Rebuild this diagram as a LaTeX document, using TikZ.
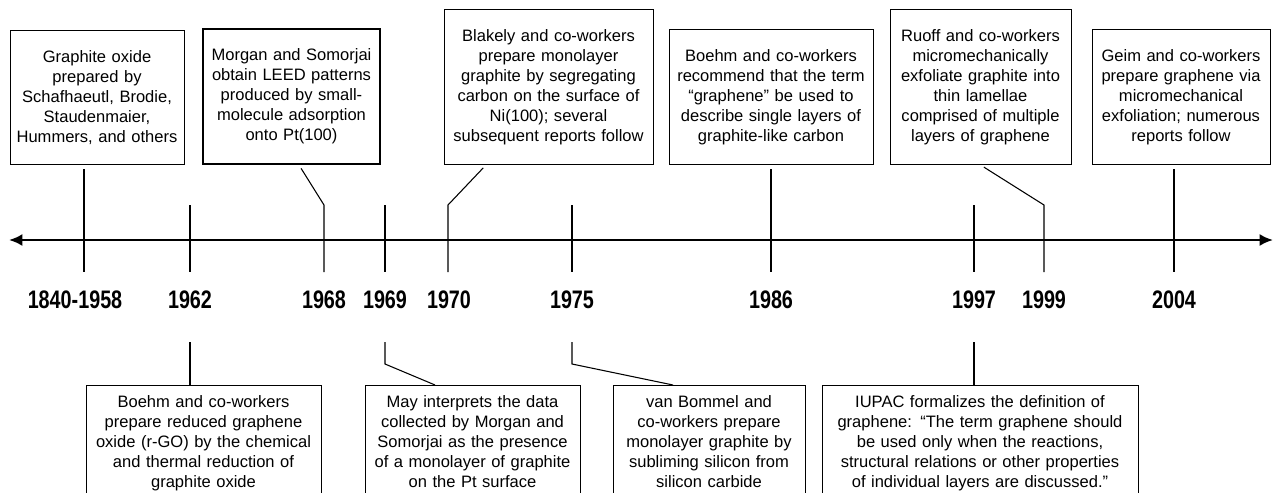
\documentclass[tikz,border=0pt]{standalone}
\usepackage{fontspec}
\setmainfont{Liberation Sans}
\newfontfamily\yearfont[FakeStretch=0.78]{Liberation Sans}
\usetikzlibrary{arrows.meta}
\newdimen\px \px=0.75pt

\begin{document}
\begin{tikzpicture}[x=0.75pt,y=-0.75pt,
	event/.style={ draw, line width=0.75pt, align=center, inner xsep=4\px, font=\fontsize{12.4}{15}\selectfont },
	eventup/.style={ event, anchor=south, inner ysep=20\px },
	eventdown/.style={ event, anchor=north, inner ysep=10\px },
	year/.style={ font=\yearfont\bfseries\fontsize{19}{19}\selectfont, inner sep=0pt },
	tick/.style={ line width=0.8pt },
	axis/.style={ line width=1.8pt, {Latex[length=10pt,width=9pt]}-{Latex[length=10pt,width=9pt]} }
]
\useasboundingbox (0,0) rectangle (1279,493);
\clip (0,0) rectangle (1279,493);

\node at (97,165) (b1840) [eventup, text width=166\px] {Graphite oxide\\prepared by\\Schafhaeutl, Brodie,\\Staudenmaier,\\Hummers, and others};
\node at (291.5,165) (b1968) [eventup, text width=169\px, line width=1.5pt] {Morgan and Somorjai\\obtain LEED patterns\\produced by small-\\molecule adsorption\\onto Pt(100)};
\node at (548.5,165) (b1970) [eventup, text width=201\px] {Blakely and co-workers\\prepare monolayer\\graphite by segregating\\carbon on the surface of\\Ni(100); several\\subsequent reports follow};
\node at (771,165) (b1986) [eventup, text width=196\px] {Boehm and co-workers\\recommend that the term\\“graphene” be used to\\describe single layers of\\graphite-like carbon};
\node at (980.5,165) (b1999) [eventup, text width=173\px] {Ruoff and co-workers\\micromechanically\\exfoliate graphite into\\thin lamellae\\comprised of multiple\\layers of graphene};
\node at (1181,165) (b2004) [eventup, text width=170\px] {Geim and co-workers\\prepare graphene via\\micromechanical\\exfoliation; numerous\\reports follow};

\node at (203.5,385) (c1962) [eventdown, text width=227\px] {Boehm and co-workers\\prepare reduced graphene\\oxide (r-GO) by the chemical\\and thermal reduction of\\graphite oxide};
\node at (472.5,385) (c1969) [eventdown, text width=207\px] {May interprets the data\\collected by Morgan and\\Somorjai as the presence\\of a monolayer of graphite\\on the Pt surface};
\node at (709,385) (c1975) [eventdown, text width=184\px] {van Bommel and\\co-workers prepare\\monolayer graphite by\\subliming silicon from\\silicon carbide};
\node at (980,385) (c1997) [eventdown, text width=308\px] {IUPAC formalizes the definition of\\graphene: “The term graphene should\\be used only when the reactions,\\structural relations or other properties\\of individual layers are discussed.”};

\coordinate (west) at (9,240);
\coordinate (east) at (1273,240);
\coordinate (t1840) at (84,240);
\coordinate (t1962) at (190,240);
\coordinate (t1968) at (324,240);
\coordinate (t1969) at (385,240);
\coordinate (t1970) at (448,240);
\coordinate (t1975) at (572,240);
\coordinate (t1986) at (771,240);
\coordinate (t1997) at (974,240);
\coordinate (t1999) at (1044,240);
\coordinate (t2004) at (1174,240);

\node at (75,300) (y1840) [year] {1840-1958};
\node at (190,300) (y1962) [year] {1962};
\node at (324,300) (y1968) [year] {1968};
\node at (385,300) (y1969) [year] {1969};
\node at (449,300) (y1970) [year] {1970};
\node at (572,300) (y1975) [year] {1975};
\node at (771,300) (y1986) [year] {1986};
\node at (974,300) (y1997) [year] {1997};
\node at (1044,300) (y1999) [year] {1999};
\node at (1174,300) (y2004) [year] {2004};

\draw[axis] (west) -- (east);

\draw[tick, shorten <=3pt] (b1840.south -| t1840) -- ([yshift=-24pt]t1840);
\draw[tick, shorten <=3pt] ([xshift=5.6pt]b1968.south) -- ([yshift=26.25pt]t1968) -- ([yshift=-24pt]t1968);
\draw[tick, shorten <=3pt] ([xshift=-46.9pt]b1970.south) -- ([yshift=26.25pt]t1970) -- ([yshift=-24pt]t1970);
\draw[tick, shorten <=3pt] (b1986.south -| t1986) -- ([yshift=-24pt]t1986);
\draw[tick, shorten <=3pt] (b1999.south) -- ([yshift=26.25pt]t1999) -- ([yshift=-24pt]t1999);
\draw[tick, shorten <=3pt] (b2004.south -| t2004) -- ([yshift=-24pt]t2004);
\draw[tick] ([yshift=26.25pt]t1962) -- ([yshift=-24pt]t1962);
\draw[tick] ([yshift=26.25pt]t1969) -- ([yshift=-24pt]t1969);
\draw[tick] ([yshift=26.25pt]t1975) -- ([yshift=-24pt]t1975);
\draw[tick] ([yshift=26.25pt]t1997) -- ([yshift=-24pt]t1997);

\draw[tick] ([yshift=-76.5pt]t1962) -- (c1962.north -| t1962);
\draw[tick] ([yshift=-76.5pt]t1969) -- ([yshift=-93pt]t1969) -- ([xshift=-28.1pt]c1969.north);
\draw[tick] ([yshift=-76.5pt]t1975) -- ([yshift=-93pt]t1975) -- ([xshift=-27pt]c1975.north);
\draw[tick] ([yshift=-76.5pt]t1997) -- (c1997.north -| t1997);

\end{tikzpicture}
\end{document}
